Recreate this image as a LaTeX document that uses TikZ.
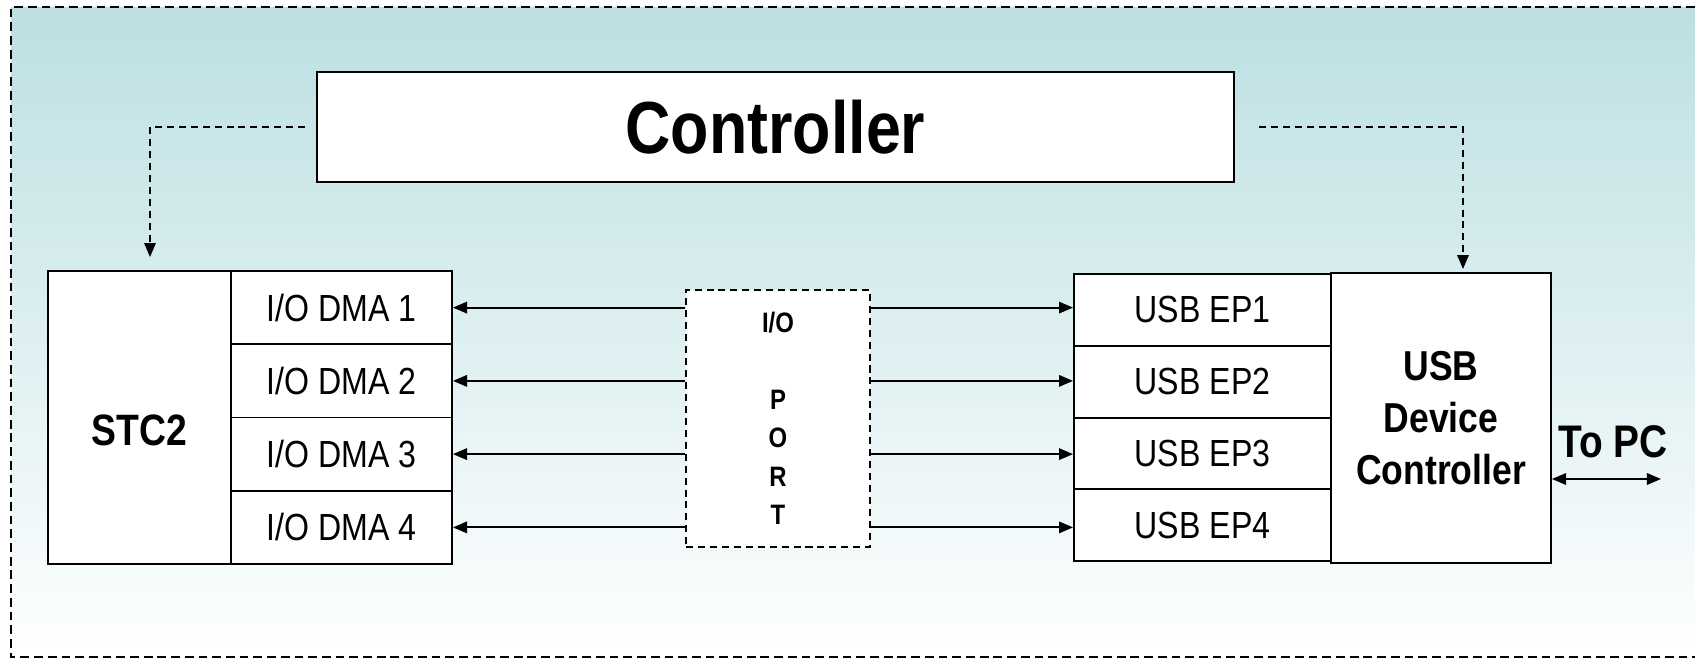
\documentclass[tikz,border=0pt]{standalone}
\usepackage{fontspec}
\setmainfont{Liberation Sans}[FakeStretch=0.85]
\usetikzlibrary{arrows.meta}
\definecolor{bgtop}{HTML}{BCDFE2}

\begin{document}
\begin{tikzpicture}[x=0.02cm, y=-0.02cm, line width=1.1pt,
    >={Triangle[length=8pt, width=6.5pt]},
    blk/.style={draw, fill=white, inner sep=0pt},
    slot/.style={blk, minimum height=1.465cm,
        font=\fontsize{21.5}{24}\selectfont},
    ctrllink/.style={dash pattern=on 4pt off 2.8pt, ->}]
    \useasboundingbox (0,0) rectangle (1695,659);
    \shade[top color=bgtop, bottom color=white]
        (11,7) rectangle (1695,657);
    \draw[dash pattern=on 5pt off 2.8pt]
        (1695,7) -- (11,7) -- (11,657) -- (1695,657);

    \node[blk, minimum width=18.34cm, minimum height=2.2cm,
        font=\bfseries\fontsize{42}{48}\selectfont] (ctrl) at (775.5,127) {Controller};

    \node[blk, minimum width=3.66cm, minimum height=5.86cm,
        text height=1.14cm, text depth=0pt,
        font=\bfseries\fontsize{25}{30}\selectfont] (stc) at (139.5,417.5) {STC2};
    \foreach \i/\y in {1/307.6, 2/380.9, 3/454.1, 4/527.4}{
        \node[slot, minimum width=4.42cm] (dma\i) at (341.5,\y) {I/O DMA \i};
    }

    \node[blk, dash pattern=on 4pt off 2.8pt,
        minimum width=3.68cm, minimum height=5.14cm, align=center,
        font=\bfseries\fontsize{16}{21.8}\selectfont] (port) at (778,418.5)
        {I/O\\[21.8pt]P\\O\\R\\T};

    \foreach \i/\y in {1/309.9, 2/381.6, 3/453.4, 4/525.1}{
        \node[slot, minimum width=5.14cm, minimum height=1.435cm] (ep\i) at (1202.5,\y) {USB EP\i};
    }
    \node[blk, minimum width=4.4cm, minimum height=5.8cm, align=center,
        font=\bfseries\fontsize{23.8}{29.5}\selectfont] (udc) at (1441,418)
        {USB\\Device\\Controller};

    \node[font=\bfseries\fontsize{26}{30}\selectfont] (topc) at (1613,442) {To PC};
    \coordinate (pc) at (1661,479);

    % data paths through the port
    \foreach \i in {1,...,4}{
        \draw[<-] (dma\i.east) -- (dma\i.east -| port.west);
        \draw[->] (port.east |- dma\i.east) -- (dma\i.east -| ep\i.west);
    }
    \draw[<->] (udc.east |- pc) -- (pc);

    % control links
    \draw[ctrllink, shorten <=6.2pt, shorten >=7.4pt]
        (ctrl.west) -| ([xshift=0.21cm]stc.north);
    \draw[ctrllink, shorten <=13.6pt, shorten >=1.7pt]
        (ctrl.east) -| ([xshift=0.44cm]udc.north);
\end{tikzpicture}
\end{document}
